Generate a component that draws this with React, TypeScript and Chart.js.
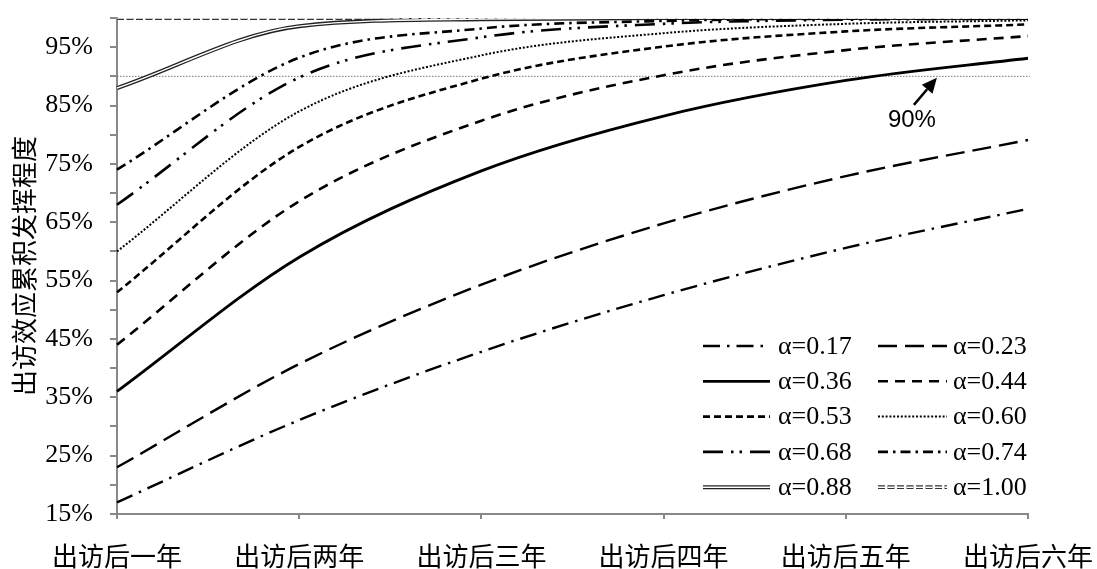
import { useEffect, useRef } from 'react';
import { Chart, registerables } from 'chart.js';

Chart.register(...registerables);

// Categories along the x axis
const years = ['出访后一年', '出访后两年', '出访后三年', '出访后四年', '出访后五年', '出访后六年'];

// Series names
const alphaLabels = ['α=0.17', 'α=0.23', 'α=0.36', 'α=0.44', 'α=0.53', 'α=0.60', 'α=0.68', 'α=0.74', 'α=0.88', 'α=1.00'];

// Cumulative effect (%) per year for each α
const a017 = [17.0, 31.1, 42.8, 52.5, 60.6, 67.3];
const a023 = [23.0, 40.7, 54.3, 64.8, 72.9, 79.1];
const a036 = [36.0, 59.0, 73.8, 83.2, 89.3, 93.1];
const a044 = [44.0, 68.6, 82.4, 90.2, 94.5, 96.9];
const a053 = [53.0, 77.9, 89.6, 95.1, 97.7, 98.9];
const a060 = [60.0, 84.0, 93.6, 97.4, 99.0, 99.6];
const a068 = [68.0, 89.8, 96.7, 99.0, 99.7, 99.9];
const a074 = [74.0, 93.2, 98.2, 99.5, 99.9, 100.0];
const a088 = [88.0, 98.6, 99.8, 100.0, 100.0, 100.0];
const a100 = [100.0, 100.0, 100.0, 100.0, 100.0, 100.0];

const seriesValues = [a017, a023, a036, a044, a053, a060, a068, a074, a088, a100];

// Labelled y ticks (marks are every 5%)
const yLabelTicks = [15, 25, 35, 45, 55, 65, 75, 85, 95];
const yMin = 15;
const yMax = 100;
const yStep = 5;

// Reference level and its callout
const threshold = 90;
const thresholdText = '90%';
const thresholdAt = 4.5; // position along the year axis where the arrow points

const yTitle = '出访效应累积发挥程度';

type LineStyle = { dash: number[]; width: number; color: string; inner?: number };

const styles: LineStyle[] = [
  { dash: [17, 7, 2.5, 7], width: 2.4, color: '#000' },
  { dash: [19, 8], width: 2.4, color: '#000' },
  { dash: [], width: 2.8, color: '#000' },
  { dash: [10, 7], width: 2.6, color: '#000' },
  { dash: [7, 4], width: 2.6, color: '#000' },
  { dash: [2, 1.8], width: 2, color: '#000' },
  { dash: [20, 8, 2.5, 6, 2.5, 8], width: 2.6, color: '#000' },
  { dash: [10, 5, 2.5, 5], width: 2.6, color: '#000' },
  { dash: [], width: 4, color: '#222', inner: 1.4 },
  { dash: [7, 2.5], width: 3.8, color: '#333', inner: 1.4 },
];

const SERIF = "'Liberation Serif', 'Noto Sans CJK SC', serif";
const CJK = "'Noto Sans CJK SC', 'Liberation Serif', sans-serif";

function strokeSample(ctx: CanvasRenderingContext2D, x0: number, x1: number, y: number, st: LineStyle) {
  ctx.save();
  ctx.lineCap = 'butt';
  ctx.setLineDash(st.dash);
  ctx.strokeStyle = st.color;
  ctx.lineWidth = st.width;
  ctx.beginPath();
  ctx.moveTo(x0, y);
  ctx.lineTo(x1, y);
  ctx.stroke();
  if (st.inner) {
    ctx.strokeStyle = '#fff';
    ctx.lineWidth = st.inner;
    ctx.beginPath();
    ctx.moveTo(x0, y);
    ctx.lineTo(x1, y);
    ctx.stroke();
  }
  ctx.restore();
}

const thresholdPlugin = {
  id: 'thresholdLine',
  beforeDatasetsDraw(chart: any) {
    const { ctx, chartArea } = chart;
    const y = chart.scales.y.getPixelForValue(threshold);
    ctx.save();
    ctx.strokeStyle = '#777';
    ctx.lineWidth = 1;
    ctx.setLineDash([1.5, 1.5]);
    ctx.beginPath();
    ctx.moveTo(chartArea.left, y);
    ctx.lineTo(chartArea.right + 2, y);
    ctx.stroke();
    ctx.restore();
  },
};

const calloutPlugin = {
  id: 'thresholdCallout',
  afterDatasetsDraw(chart: any) {
    const { ctx } = chart;
    const tipX = chart.scales.x.getPixelForValue(thresholdAt);
    const tipY = chart.scales.y.getPixelForValue(threshold) + 1.5;
    const tailX = tipX - 23;
    const tailY = tipY + 27;
    const ang = Math.atan2(tipY - tailY, tipX - tailX);
    const headLen = 15;
    const headHalf = 7;
    const bx = tipX - headLen * Math.cos(ang);
    const by = tipY - headLen * Math.sin(ang);
    ctx.save();
    ctx.strokeStyle = '#000';
    ctx.fillStyle = '#000';
    ctx.lineWidth = 2.5;
    ctx.beginPath();
    ctx.moveTo(tailX, tailY);
    ctx.lineTo(bx, by);
    ctx.stroke();
    ctx.beginPath();
    ctx.moveTo(tipX, tipY);
    ctx.lineTo(bx + headHalf * Math.sin(ang), by - headHalf * Math.cos(ang));
    ctx.lineTo(bx - headHalf * Math.sin(ang), by + headHalf * Math.cos(ang));
    ctx.closePath();
    ctx.fill();
    ctx.font = "24px 'Liberation Sans', sans-serif";
    ctx.textAlign = 'center';
    ctx.textBaseline = 'middle';
    ctx.fillText(thresholdText, tailX - 2, tailY + 16);
    ctx.restore();
  },
};

const legendPlugin = {
  id: 'alphaLegend',
  afterDatasetsDraw(chart: any) {
    const { ctx } = chart;
    const cols = [
      { x0: 703, x1: 770, tx: 778 },
      { x0: 878, x1: 947, tx: 953 },
    ];
    const rowY0 = 346;
    const rowGap = 35.3;
    alphaLabels.forEach((label, i) => {
      const col = cols[i % 2];
      const y = rowY0 + Math.floor(i / 2) * rowGap;
      strokeSample(ctx, col.x0, col.x1, y, styles[i]);
      ctx.save();
      ctx.fillStyle = '#000';
      ctx.font = `26px ${SERIF}`;
      ctx.textAlign = 'left';
      ctx.textBaseline = 'middle';
      ctx.fillText(label, col.tx, y + 1);
      ctx.restore();
    });
  },
};

export default function App() {
  const canvasRef = useRef<HTMLCanvasElement | null>(null);

  useEffect(() => {
    const canvas = canvasRef.current;
    if (!canvas) return;

    const datasets: any[] = [];
    seriesValues.forEach((values, i) => {
      const st = styles[i];
      datasets.push({
        label: alphaLabels[i],
        data: values,
        borderColor: st.color,
        borderWidth: st.width,
        borderDash: st.dash,
        borderCapStyle: 'butt',
        pointRadius: 0,
        fill: false,
        cubicInterpolationMode: 'monotone',
        order: 2,
      });
      if (st.inner) {
        datasets.push({
          label: alphaLabels[i] + ' ',
          data: values,
          borderColor: '#fff',
          borderWidth: st.inner,
          borderDash: st.dash,
          borderCapStyle: 'butt',
          pointRadius: 0,
          fill: false,
          cubicInterpolationMode: 'monotone',
          order: 1,
        });
      }
    });

    const chart = new Chart(canvas, {
      type: 'line',
      data: { labels: years, datasets },
      options: {
        responsive: false,
        animation: false,
        events: [],
        layout: { padding: { top: 18, right: 69, bottom: 0, left: 0 } },
        plugins: {
          legend: { display: false },
          tooltip: { enabled: false },
        },
        scales: {
          x: {
            type: 'category',
            offset: false,
            afterFit: (scale: any) => {
              scale.height = 55;
              scale.paddingLeft = 0;
              scale.paddingRight = 0;
            },
            grid: {
              drawOnChartArea: false,
              drawTicks: true,
              tickLength: 5,
              color: '#888',
              lineWidth: 2,
            },
            border: { display: true, color: '#888', width: 2 },
            ticks: {
              autoSkip: false,
              maxRotation: 0,
              minRotation: 0,
              padding: 22,
              color: '#000',
              font: { family: CJK, size: 26 },
            },
          },
          y: {
            type: 'linear',
            min: yMin,
            max: yMax,
            afterFit: (scale: any) => {
              scale.width = 117;
              scale.paddingTop = 0;
              scale.paddingBottom = 0;
            },
            grid: {
              drawOnChartArea: false,
              drawTicks: true,
              tickLength: 7,
              color: '#888',
              lineWidth: 2,
            },
            border: { display: true, color: '#888', width: 2 },
            ticks: {
              stepSize: yStep,
              autoSkip: false,
              padding: 17,
              color: '#000',
              font: { family: SERIF, size: 26 },
              callback: (v: any) => (yLabelTicks.includes(Number(v)) ? `${v}%` : ''),
            },
            title: {
              display: true,
              text: yTitle,
              color: '#000',
              font: { family: CJK, size: 26 },
              padding: { top: 9, bottom: 0 },
            },
          },
        },
      },
      plugins: [thresholdPlugin, calloutPlugin, legendPlugin],
    });

    return () => chart.destroy();
  }, []);

  return (
    <div style={{ position: 'fixed', left: 0, top: 0, width: 1097, height: 569, background: '#fff' }}>
      <canvas ref={canvasRef} width={1097} height={569} style={{ display: 'block' }} />
    </div>
  );
}
